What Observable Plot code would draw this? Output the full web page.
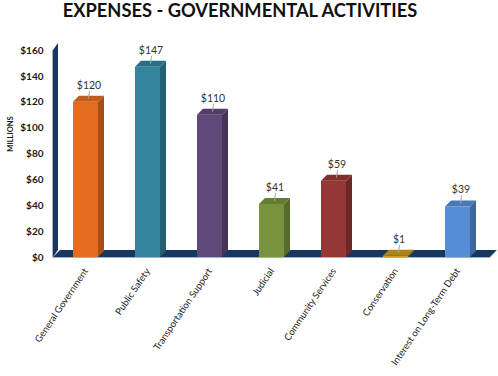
<!DOCTYPE html>
<html><head><meta charset="utf-8">
<script src="https://cdn.jsdelivr.net/npm/d3@7"></script>
<script src="https://cdn.jsdelivr.net/npm/@observablehq/plot@0.6"></script>
<style>
body{margin:0;background:#fff;font-family:Lato,sans-serif;}
#title{height:26px;line-height:21px;font-size:18.3px;font-weight:700;text-align:center;padding-right:18px;color:#111;white-space:nowrap;overflow:visible;}
</style></head><body>
<div id="title">EXPENSES - GOVERNMENTAL ACTIVITIES</div>
<div id="chart"></div>
<script>
const categories = ["General Government","Public Safety","Transportation Support","Judicial","Community Services","Conservation","Interest on Long-Term Debt"];
const values = [120,147,110,41,59,1,39];
const colors = ["#E46C1E","#31849B","#5F497A","#77933C","#953735","#CC9A1E","#558ED5"];
const yTicks = [0,20,40,60,80,100,120,140,160];
const yLabel = "MILLIONS";

const data = categories.map((c,i)=>({category:c, value:values[i], color:colors[i]}));
const depth = 6, floorDepth = 7;

const pts = a => a.map(p => p.join(",")).join(" ");

const floorMark = (index, scales, vals, dims) => {
  const y = scales.y;
  const g = d3.create("svg:g");
  const x0 = dims.marginLeft, x1 = dims.width - dims.marginRight;
  const yb = y(0), yt = y(yTicks[yTicks.length-1]);
  g.append("polygon").attr("points", pts([[x0,yb],[x1,yb],[x1+floorDepth,yb-floorDepth],[x0+floorDepth,yb-floorDepth]])).attr("fill","#17375E");
  g.append("polyline").attr("points", pts([[x0,yb+0.5],[x1,yb+0.5],[x1+floorDepth,yb-floorDepth]])).attr("fill","none").attr("stroke","#9DB3CF").attr("stroke-width",1);
  g.append("polygon").attr("points", pts([[x0,yb],[x0,yt],[x0+5,yt-floorDepth],[x0+5,yb-floorDepth]])).attr("fill","#17375E");
  g.append("line").attr("x1",x0-0.5).attr("x2",x0-0.5).attr("y1",yt).attr("y2",yb+0.5).attr("stroke","#9DB3CF");
  return g.node();
};

const bars3d = (index, scales) => {
  const x = scales.x, y = scales.y, bw = x.bandwidth();
  const g = d3.create("svg:g");
  for (const d of data) {
    const xl = x(d.category), xr = xl + bw, yt = y(d.value), yb = y(0);
    const c = d3.color(d.color);
    g.append("polygon").attr("points", pts([[xr,yb],[xr,yt],[xr+depth,yt-depth],[xr+depth,yb-depth]])).attr("fill", c.darker(0.9));
    g.append("polygon").attr("points", pts([[xl,yt],[xr,yt],[xr+depth,yt-depth],[xl+depth,yt-depth]])).attr("fill", c.darker(0.45));
    const cx = xl + bw/2 + depth/2;
    g.append("line").attr("x1",cx).attr("x2",cx+1).attr("y1",yt-depth/2).attr("y2",yt-11).attr("stroke","#A6A6A6").attr("stroke-width",1);
  }
  return g.node();
};

const chart = Plot.plot({
  width: 498,
  height: 350,
  marginTop: 24,
  marginBottom: 119,
  marginLeft: 53,
  marginRight: 8,
  style: {fontFamily: "Lato, sans-serif", background: "#fff"},
  x: {domain: categories, paddingInner: 0.6, paddingOuter: 0.3, axis: null},
  y: {domain: [0, 160], axis: null},
  marks: [
    floorMark,
    Plot.barY(data, {x: "category", y: "value", fill: "color"}),
    bars3d,
    Plot.text(data, {x: "category", y: "value", text: d => "$" + d.value, dy: -17, dx: 3, fontSize: 10.5, fill: "#333"}),
    Plot.text(yTicks, {y: d => d, frameAnchor: "left", text: d => "$" + d, dx: -10, textAnchor: "end", fontWeight: "bold", fontSize: 10, fill: "#1a1a1a"}),
    Plot.text([yLabel], {frameAnchor: "left", text: d => d, rotate: -90, textAnchor: "middle", dx: -43, dy: -20, fontWeight: "bold", fontSize: 7.5, fill: "#1a1a1a"}),
    Plot.text(data, {x: "category", y: () => 0, text: "category", rotate: -56, textAnchor: "end", lineAnchor: "bottom", dx: 2.5, dy: 13.5, fontSize: 9.5, fill: "#1a1a1a"})
  ]
});
document.getElementById("chart").appendChild(chart);
</script>
</body></html>
